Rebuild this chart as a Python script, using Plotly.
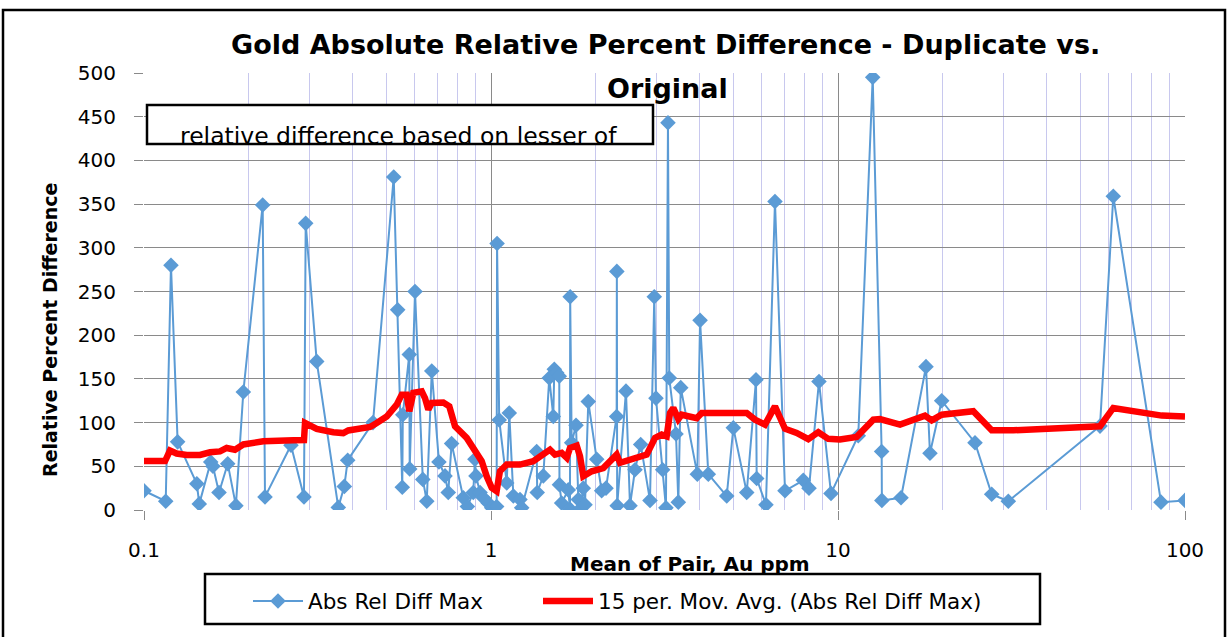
import plotly.graph_objects as go

# Blue series: Abs Rel Diff Max (mean of pair, Au ppm  vs  relative percent difference)
mean_of_pair = [
    0.100, 0.1155, 0.1196, 0.125, 0.142, 0.1443, 0.1557, 0.158, 0.1645, 0.1743,
    0.184, 0.1933, 0.2198, 0.2232, 0.2652, 0.2891, 0.2924, 0.3146, 0.363, 0.3778,
    0.3864, 0.457, 0.5244, 0.5384, 0.555, 0.557, 0.5815, 0.583, 0.604, 0.636,
    0.653, 0.675, 0.708, 0.737, 0.753, 0.770, 0.832, 0.855, 0.889, 0.899,
    0.905, 0.930, 0.950, 0.982, 1.005, 1.038, 1.041, 1.056, 1.110, 1.129,
    1.160, 1.212, 1.226, 1.354, 1.359, 1.415, 1.472, 1.512, 1.522, 1.546,
    1.573, 1.575, 1.598, 1.670, 1.689, 1.691, 1.708, 1.758, 1.785, 1.805,
    1.845, 1.866, 1.907, 2.017, 2.084, 2.145, 2.302, 2.305, 2.31, 2.449,
    2.515, 2.600, 2.700, 2.872, 2.955, 2.988, 3.124, 3.193, 3.236, 3.264,
    3.413, 3.466, 3.522, 3.932, 4.004, 4.229, 4.779, 4.993, 5.457, 5.804,
    5.83, 6.200, 6.582, 7.035, 7.943, 8.249, 8.814, 9.546, 11.44, 12.59,
    13.36, 13.38, 15.19, 17.93, 18.41, 19.90, 24.82, 27.73, 30.96, 56.89,
    62.14, 85.28, 100.0,
]
abs_rel_diff_max = [
    22, 10, 280, 78, 30, 7, 55, 50, 20, 53,
    5, 135, 349, 15, 74, 15, 328, 170, 3, 27,
    57, 100, 381, 229, 26, 109, 178, 47, 250, 35,
    10, 159, 55, 39, 20, 76, 14, 4, 20, 58,
    39, 20, 14, 8, 2.5, 4, 305, 103, 31, 111,
    16, 12, 2.5, 67, 20, 39, 151, 107, 161, 157,
    153, 29, 8, 23, 1, 244, 77, 97, 12, 1,
    25, 6, 124, 58, 22, 25, 107, 273, 5, 136,
    5, 46, 75, 11, 244, 128, 46, 2.5, 443, 151,
    87, 9, 140, 41, 217, 41, 16, 94, 20, 149,
    36, 6, 353, 22, 34, 25, 147, 19, 85, 495,
    67, 11, 14, 164, 65, 125, 77, 18, 10, 96,
    359, 9, 11,
]

# Red series: 15 per. Mov. Avg. (Abs Rel Diff Max), as drawn
mov_avg_x = [
    0.1, 0.115, 0.1188, 0.1242, 0.1328, 0.145, 0.155, 0.1656, 0.1731, 0.1829,
    0.1933, 0.2207, 0.2694, 0.2891, 0.2911, 0.3146, 0.3512, 0.3753, 0.3879, 0.4481,
    0.4684, 0.5006, 0.5349, 0.553, 0.5717, 0.5815, 0.5972, 0.6315, 0.6454, 0.6597,
    0.675, 0.7287, 0.7583, 0.7876, 0.8511, 0.8993, 0.9402, 0.9718, 1.005, 1.038,
    1.061, 1.110, 1.212, 1.324, 1.400, 1.479, 1.529, 1.598, 1.653, 1.689,
    1.766, 1.805, 1.845, 1.951, 2.107, 2.251, 2.302, 2.354, 2.515, 2.810,
    2.970, 3.104, 3.208, 3.280, 3.352, 3.466, 3.544, 3.916, 4.048, 5.457,
    5.765, 6.159, 6.582, 7.035, 7.603, 8.212, 8.774, 9.376, 10.13, 11.32,
    12.64, 13.21, 15.09, 17.81, 18.62, 19.90, 24.54, 27.73, 32.01, 56.89,
    62.14, 85.67, 100.0,
]
mov_avg_y = [
    56, 56, 68, 64.6, 63, 63, 66, 67, 71, 69,
    75, 78.6, 79.8, 80, 99.6, 92.8, 89, 88, 91, 95,
    99.6, 107, 120.6, 132, 132, 113, 134, 135.8, 128, 115,
    122.5, 123, 118.6, 95.8, 82.5, 69, 55.8, 38.6, 25.3, 21.5,
    44.3, 52, 52, 55.8, 61.5, 69, 63.4, 65.3, 59.7, 71,
    73.7, 61.5, 38.6, 44.3, 48, 57.7, 63.4, 54, 57.7, 63.4,
    82.5, 86.3, 84.3, 111, 116.8, 104, 109, 105, 111, 111,
    103.4, 97.7, 118.6, 93, 88.2, 81, 89, 81.4, 80.6, 83.7,
    103.4, 104, 97.7, 108, 102.6, 109, 113, 91.2, 91.2, 95.8,
    116.8, 108, 107,
]

y_ticks = [0, 50, 100, 150, 200, 250, 300, 350, 400, 450, 500]
x_minor_ticks = [m * d for d in (0.1, 1, 10) for m in range(2, 10)]

FONT = "DejaVu Sans"
BLUE = "#5B9BD5"

fig = go.Figure()
fig.add_trace(go.Scatter(
    x=mean_of_pair, y=abs_rel_diff_max, mode="lines+markers",
    name="Abs Rel Diff Max", legend="legend",
    line=dict(color=BLUE, width=2),
    marker=dict(symbol="diamond", size=12, color=BLUE),
))
fig.add_trace(go.Scatter(
    x=mov_avg_x, y=mov_avg_y, mode="lines",
    name="15 per. Mov. Avg. (Abs Rel Diff Max)", legend="legend2",
    line=dict(color="#FF0000", width=6.5),
))

W, H = 1228, 637
L, R, T, B = 144, 43, 73, 127
pw, ph = W - L - R, H - T - B


def px(xp):
    return (xp - L) / pw


def py(yp):
    return (H - B - yp) / ph


leg_common = dict(orientation="h", yanchor="middle", xanchor="left",
                  font=dict(size=21.5, family=FONT), bgcolor="rgba(0,0,0,0)",
                  itemwidth=50)

fig.update_layout(
    width=W, height=H,
    margin=dict(l=L, r=R, t=T, b=B),
    paper_bgcolor="white", plot_bgcolor="white",
    font=dict(family=FONT, color="black", size=20),
    showlegend=True,
    legend=dict(x=px(248), y=py(601), **leg_common),
    legend2=dict(x=px(538), y=py(601), **leg_common),
    xaxis=dict(
        type="log", range=[-1, 2], dtick=1,
        showgrid=True, gridcolor="#8a8a8a", gridwidth=1,
        minor=dict(showgrid=True, gridcolor="#c8c8ee", gridwidth=1,
                   tickmode="array", tickvals=x_minor_ticks, ticks=""),
        ticks="outside", ticklen=9, tickcolor="#8a8a8a",
        tickfont=dict(size=20, family=FONT),
        ticklabelstandoff=13,
        zeroline=False, showline=False,
    ),
    yaxis=dict(
        range=[0, 500], tickvals=y_ticks,
        showgrid=True, gridcolor="#8a8a8a", gridwidth=1,
        ticks="outside", ticklen=9, tickcolor="#8a8a8a",
        tickfont=dict(size=20, family=FONT),
        ticklabelstandoff=14,
        zeroline=False, showline=False,
    ),
)

shapes = []
# outer chart frame
shapes.append(dict(type="rect", xref="paper", yref="paper",
                   x0=px(3), x1=px(1225), y0=py(660), y1=py(10),
                   line=dict(color="black", width=2.5), layer="above"))
# text box
shapes.append(dict(type="rect", xref="paper", yref="paper",
                   x0=px(147), x1=px(653), y0=py(144), y1=py(105),
                   line=dict(color="black", width=2.5), fillcolor="white", layer="above"))
# legend box
shapes.append(dict(type="rect", xref="paper", yref="paper",
                   x0=px(205), x1=px(1040), y0=py(624), y1=py(574),
                   line=dict(color="black", width=2.5), layer="above"))
fig.update_layout(shapes=shapes)

ann = []
ann.append(dict(text="<b>Gold Absolute Relative Percent Difference - Duplicate vs.</b>",
                xref="paper", yref="paper", x=px(665), y=py(45),
                xanchor="center", yanchor="middle", showarrow=False,
                font=dict(size=27, family=FONT)))
ann.append(dict(text="<b>Original</b>",
                xref="paper", yref="paper", x=px(667), y=py(88),
                xanchor="center", yanchor="middle", showarrow=False,
                font=dict(size=27, family=FONT)))
ann.append(dict(text="relative difference based on lesser of",
                xref="paper", yref="paper", x=px(178), y=py(136),
                xanchor="left", yanchor="middle", showarrow=False,
                font=dict(size=23.5, family=FONT)))
ann.append(dict(text="<b>Relative Percent Difference</b>",
                xref="paper", yref="paper", x=px(50), y=py(330),
                xanchor="center", yanchor="middle", showarrow=False, textangle=-90,
                font=dict(size=19, family=FONT)))
ann.append(dict(text="<b>Mean of Pair, Au ppm</b>",
                xref="paper", yref="paper", x=px(690), y=py(564),
                xanchor="center", yanchor="middle", showarrow=False,
                font=dict(size=20, family=FONT)))
fig.update_layout(annotations=ann)

fig.write_html("out.html")
